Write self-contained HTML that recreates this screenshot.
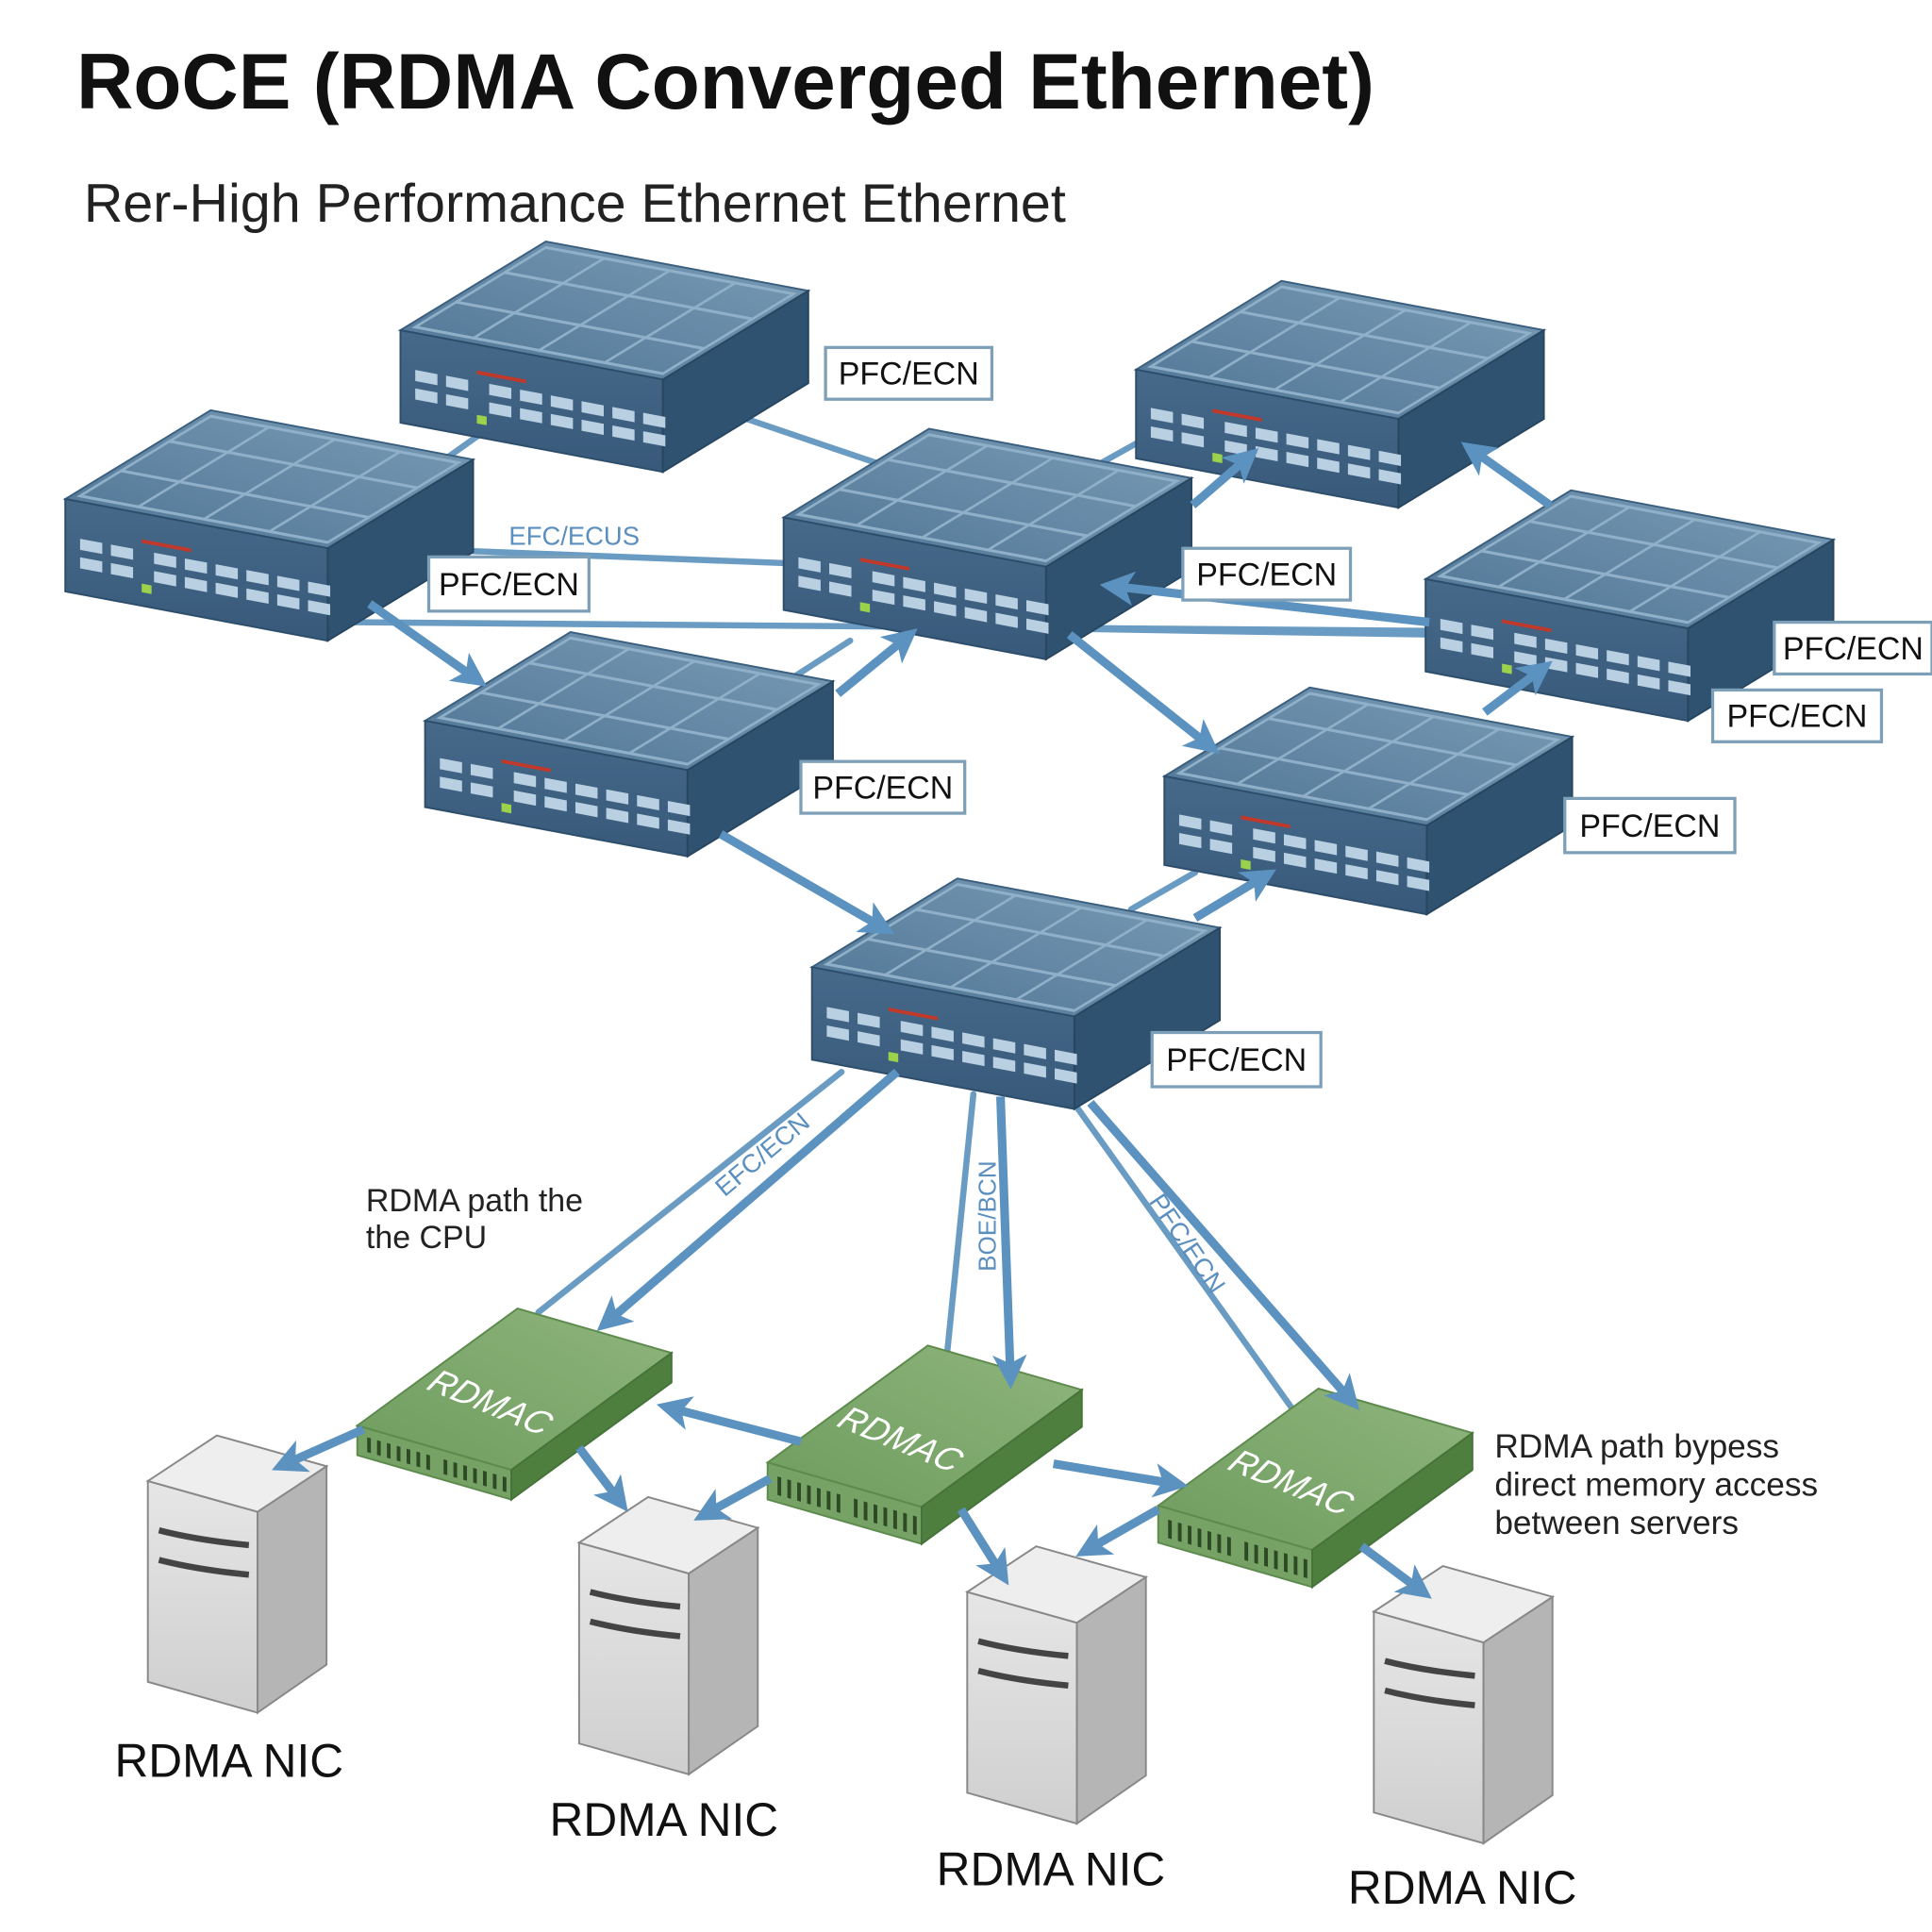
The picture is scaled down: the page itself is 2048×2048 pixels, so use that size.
<!DOCTYPE html>
<html><head><meta charset="utf-8"><style>
html,body{margin:0;padding:0;background:#fff;}
svg{display:block;}
text{font-family:"Liberation Sans","DejaVu Sans",sans-serif;}
</style></head><body>
<svg id="s" xmlns="http://www.w3.org/2000/svg" width="2048" height="2048" viewBox="0 0 1568 1568">
<defs>
<marker id="ah" markerWidth="4" markerHeight="4" refX="2.2" refY="2" orient="auto" markerUnits="strokeWidth">
<path d="M0,0 L4,2 L0,4 L1,2 Z" fill="#5b92bf"/></marker>
<linearGradient id="gtop" x1="0" y1="1" x2="1" y2="0"><stop offset="0" stop-color="#4f7595"/><stop offset="1" stop-color="#7a9cb6"/></linearGradient>
<linearGradient id="gfront" x1="0" y1="0" x2="0" y2="1"><stop offset="0" stop-color="#46698a"/><stop offset="1" stop-color="#38597a"/></linearGradient>
<linearGradient id="grtop" x1="0" y1="1" x2="1" y2="0"><stop offset="0" stop-color="#6e9c5e"/><stop offset="1" stop-color="#8fb57d"/></linearGradient>
<linearGradient id="svf" x1="0" y1="0" x2="0" y2="1"><stop offset="0" stop-color="#e6e6e6"/><stop offset="1" stop-color="#cfcfcf"/></linearGradient>
</defs>
<g id="lines" stroke="#6a9cc3" stroke-width="5" fill="none" stroke-linecap="round"></g>
<g id="objs"></g>
<g id="arrows" stroke="#5b92bf" stroke-width="7" fill="none"></g>
<g id="labels"></g>
<text x="62" y="88" font-size="64" font-weight="bold" fill="#111">RoCE (RDMA Converged Ethernet)</text>
<text x="68" y="180" font-size="44" fill="#222">Rer-High Performance Ethernet Ethernet</text>
<text x="413" y="442" font-size="21" fill="#5b8fbf">EFC/ECUS</text>
<text x="297" y="983" font-size="26" fill="#222">RDMA path the</text>
<text x="297" y="1013" font-size="26" fill="#222">the CPU</text>
<text x="1213" y="1183" font-size="27" fill="#222">RDMA path bypess</text>
<text x="1213" y="1214" font-size="27" fill="#222">direct memory access</text>
<text x="1213" y="1245" font-size="27" fill="#222">between servers</text>
<text x="93" y="1442" font-size="38" fill="#111">RDMA NIC</text>
<text x="446" y="1490" font-size="38" fill="#111">RDMA NIC</text>
<text x="760" y="1530" font-size="38" fill="#111">RDMA NIC</text>
<text x="1094" y="1545" font-size="38" fill="#111">RDMA NIC</text>
<text transform="translate(588,972) rotate(-40)" font-size="21" fill="#5b8fbf">EFC/ECN</text>
<text transform="translate(808,1032) rotate(-90)" font-size="20" fill="#5b8fbf">BOE/BCN</text>
<text transform="translate(932,975) rotate(56)" font-size="21" fill="#5b8fbf">PFC/ECN</text>
</svg>
<script>
var NS="http://www.w3.org/2000/svg";
function el(p,t,a,txt){var e=document.createElementNS(NS,t);for(var k in a)e.setAttribute(k,a[k]);if(txt)e.textContent=txt;p.appendChild(e);return e;}
var L=document.getElementById('lines'),O=document.getElementById('objs'),A=document.getElementById('arrows'),B=document.getElementById('labels');
function P(a){return a.map(function(p){return p[0]+','+p[1]}).join(' ');}
function sw(x,y,h){
 var fx=213,fy=40,bx=118,by=-72;
 var g=el(O,'g',{});
 el(g,'polygon',{points:P([[x,y],[x+fx,y+fy],[x+fx+bx,y+fy+by],[x+bx,y+by]]),fill:'url(#gtop)',stroke:'#3b5f7f','stroke-width':1.5});
 var t=el(g,'g',{transform:'matrix(1,'+(fy/fx)+','+(bx/118)+','+(by/118)+','+x+','+y+')',stroke:'#8fb0c8','stroke-width':3,fill:'none'});
 for(var i=1;i<4;i++)el(t,'line',{x1:fx*i/4,y1:6,x2:fx*i/4,y2:112});
 for(var j=1;j<3;j++)el(t,'line',{x1:6,y1:118*j/3,x2:fx-6,y2:118*j/3});
 el(t,'rect',{x:6,y:6,width:fx-12,height:106});
 el(g,'polygon',{points:P([[x,y],[x+fx,y+fy],[x+fx,y+fy+h],[x,y+h]]),fill:'url(#gfront)',stroke:'#2d4e6b','stroke-width':1.5});
 el(g,'polygon',{points:P([[x+fx,y+fy],[x+fx+bx,y+fy+by],[x+fx+bx,y+fy+by+h],[x+fx,y+fy+h]]),fill:'#2f5270',stroke:'#284660','stroke-width':1.5});
 var f=el(g,'g',{transform:'matrix(1,'+(fy/fx)+',0,1,'+x+','+y+')'});
 for(var k=0;k<8;k++){var px=12+k*25+(k>1?10:0);
  el(f,'rect',{x:px,y:h*0.4,width:18,height:9,fill:'#b9d0e2'});
  el(f,'rect',{x:px,y:h*0.4+15,width:18,height:9,fill:'#b9d0e2'});}
 el(f,'rect',{x:62,y:h*0.28,width:40,height:3,fill:'#c0392b'});
 el(f,'rect',{x:62,y:h*0.4+27,width:8,height:7,fill:'#9bd14b'});
}
function gr(x,y,h,lbl){
 var fx=125,fy=36,bx=130,by=-95;
 var g=el(O,'g',{});
 el(g,'polygon',{points:P([[x,y],[x+fx,y+fy],[x+fx+bx,y+fy+by],[x+bx,y+by]]),fill:'url(#grtop)',stroke:'#5d8a4d','stroke-width':1.5});
 el(g,'polygon',{points:P([[x,y],[x+fx,y+fy],[x+fx,y+fy+h],[x,y+h]]),fill:'#77a266',stroke:'#5d8a4d','stroke-width':1.5});
 el(g,'polygon',{points:P([[x+fx,y+fy],[x+fx+bx,y+fy+by],[x+fx+bx,y+fy+by+h],[x+fx,y+fy+h]]),fill:'#4f7f3f',stroke:'#46733a','stroke-width':1.5});
 var f=el(g,'g',{transform:'matrix(1,'+(fy/fx)+',0,1,'+x+','+y+')'});
 for(var k=0;k<14;k++)el(f,'rect',{x:8+k*8+(k>6?6:0),y:h*0.3,width:3,height:h*0.5,fill:'#2d4a25'});
 el(g,'text',{transform:'translate('+(x+55)+','+(y-30)+') rotate(22) skewX(-12)','font-size':28,fill:'#fff','font-style':'italic'},lbl);
}
function sv(x,y){
 var fx=89,fy=25,bx=56,by=-37,h=163;
 var g=el(O,'g',{});
 el(g,'polygon',{points:P([[x,y],[x+fx,y+fy],[x+fx,y+fy+h],[x,y+h]]),fill:'url(#svf)',stroke:'#888','stroke-width':1.5});
 el(g,'polygon',{points:P([[x+fx,y+fy],[x+fx+bx,y+fy+by],[x+fx+bx,y+fy+by+h-2],[x+fx,y+fy+h]]),fill:'#b5b5b5',stroke:'#888','stroke-width':1.5});
 el(g,'polygon',{points:P([[x,y],[x+fx,y+fy],[x+fx+bx,y+fy+by],[x+bx,y+by]]),fill:'#eeeeee',stroke:'#888','stroke-width':1.5});
 el(g,'path',{d:'M'+(x+9)+','+(y+40)+' Q'+(x+40)+','+(y+48)+' '+(x+82)+','+(y+52),stroke:'#444','stroke-width':5,fill:'none'});
 el(g,'path',{d:'M'+(x+9)+','+(y+64)+' Q'+(x+40)+','+(y+72)+' '+(x+82)+','+(y+76),stroke:'#444','stroke-width':5,fill:'none'});
}
function ln(a,b,c,d){el(L,'line',{x1:a,y1:b,x2:c,y2:d});}
function ar(a,b,c,d){el(A,'line',{x1:a,y1:b,x2:c,y2:d,'marker-end':'url(#ah)'});}
ln(600,338,718,378);ln(365,370,400,345);ln(375,447,636,457);ln(285,505,1160,512);ln(850,510,1160,515);
ln(620,565,690,520);ln(895,375,922,360);ln(918,738,970,708);
ln(683,870,437,1065);ln(790,888,768,1105);ln(875,900,1050,1145);
sw(325,268,75);sw(922,300,72);sw(53,405,75);sw(636,420,75);sw(1157,470,75);sw(345,585,70);sw(945,630,72);sw(659,785,75);
gr(290,1157,24,'RDMAC');gr(623,1187,30,'RDMAC');gr(940,1222,30,'RDMAC');
sv(120,1202);sv(470,1252);sv(785,1292);sv(1115,1308);
ar(300,490,385,550);ar(680,563,735,518);ar(968,410,1012,372);ar(1258,410,1196,366);ar(868,515,980,604);
ar(1160,505,905,476);ar(1205,578,1250,544);ar(585,677,715,752);ar(970,745,1025,712);
ar(728,870,494,1072);ar(812,890,820,1115);ar(885,895,1095,1135);
ar(650,1170,545,1143);ar(855,1188,952,1204);ar(295,1160,232,1188);ar(470,1175,502,1217);
ar(625,1200,574,1228);ar(780,1225,812,1276);ar(940,1225,884,1257);ar(1105,1255,1152,1290);
[[670,282,135,42],[348,452,130,44],[960,445,136,42],[1440,505,128,42],[1390,560,137,42],[650,618,133,42],[1270,648,138,44],[935,838,137,44]].forEach(function(r){
 el(B,'rect',{x:r[0],y:r[1],width:r[2],height:r[3],fill:'#fff',stroke:'#7d9fb8','stroke-width':2.5});
 el(B,'text',{x:r[0]+r[2]/2,y:r[1]+r[3]/2+9,'font-size':26,'text-anchor':'middle',fill:'#111'},'PFC/ECN');
});
</script>
</body></html>
